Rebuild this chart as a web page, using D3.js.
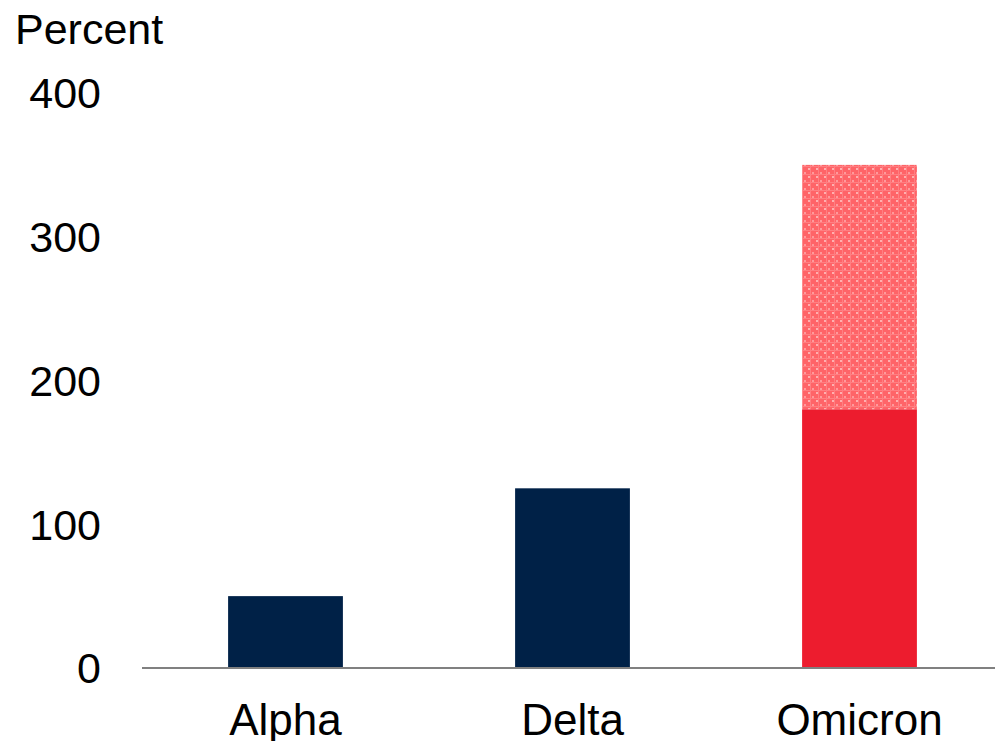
<!DOCTYPE html>
<html>
<head>
<meta charset="utf-8">
<script src="https://cdn.jsdelivr.net/npm/d3@7"></script>
<style>
  html, body { margin: 0; padding: 0; background: #fff; overflow: hidden; }
  text { font-family: "Liberation Sans", Arial, sans-serif; fill: #000; }
</style>
</head>
<body>
<svg id="chart" width="995" height="741"></svg>
<script>
const categories = ["Alpha", "Delta", "Omicron"];
const baseValues = [50, 125, 180];
const extraValues = [0, 0, 170];
const yTicks = [0, 100, 200, 300, 400];
const yLabel = "Percent";

const svg = d3.select("#chart");
const y0px = 668, y400px = 93;
const x = d3.scaleBand().domain(categories).range([142, 1003]).paddingInner(0.6).paddingOuter(0.3);
const y = d3.scaleLinear().domain([0, 400]).range([y0px, y400px]);

const defs = svg.append("defs");
const pat = defs.append("pattern").attr("id", "hatch").attr("patternUnits", "userSpaceOnUse")
  .attr("width", 8).attr("height", 8);
pat.append("rect").attr("width", 8).attr("height", 8).attr("fill", "#ff6468");
pat.append("rect").attr("x", 0).attr("y", 0).attr("width", 2).attr("height", 2).attr("fill", "#ffb0b0");
pat.append("rect").attr("x", 4).attr("y", 4).attr("width", 2).attr("height", 2).attr("fill", "#ff9a9c");
pat.append("rect").attr("x", 2).attr("y", 0).attr("width", 1).attr("height", 8).attr("fill", "#ff7f82");
pat.append("rect").attr("x", 0).attr("y", 6).attr("width", 8).attr("height", 1).attr("fill", "#ff7f82");

const navy = "#002147", red = "#ed1c2e";

svg.selectAll("rect.base").data(categories).enter().append("rect")
  .attr("class", "base")
  .attr("x", d => x(d))
  .attr("width", x.bandwidth())
  .attr("y", (d, i) => y(baseValues[i]))
  .attr("height", (d, i) => y(0) - y(baseValues[i]))
  .attr("fill", (d, i) => extraValues[i] > 0 ? red : navy);

svg.selectAll("rect.extra").data(categories.filter((d, i) => extraValues[i] > 0)).enter().append("rect")
  .attr("class", "extra")
  .attr("x", d => x(d))
  .attr("width", x.bandwidth())
  .attr("y", d => { const i = categories.indexOf(d); return y(baseValues[i] + extraValues[i]); })
  .attr("height", d => { const i = categories.indexOf(d); return y(baseValues[i]) - y(baseValues[i] + extraValues[i]); })
  .attr("fill", "url(#hatch)");

svg.append("line").attr("x1", 142).attr("x2", 1003).attr("y1", y(0)).attr("y2", y(0))
  .attr("stroke", "#808080").attr("stroke-width", 2);

svg.selectAll("text.ytick").data(yTicks).enter().append("text")
  .attr("class", "ytick")
  .attr("x", 101)
  .attr("y", d => y(d))
  .attr("dy", "0.36em")
  .attr("text-anchor", "end")
  .attr("font-size", 43)
  .text(d => d);

svg.selectAll("text.xlab").data(categories).enter().append("text")
  .attr("class", "xlab")
  .attr("x", d => x(d) + x.bandwidth() / 2)
  .attr("y", 735)
  .attr("text-anchor", "middle")
  .attr("font-size", 44)
  .text(d => d);

svg.append("text").attr("x", 15).attr("y", 44).attr("font-size", 43).text(yLabel);
</script>
</body>
</html>
